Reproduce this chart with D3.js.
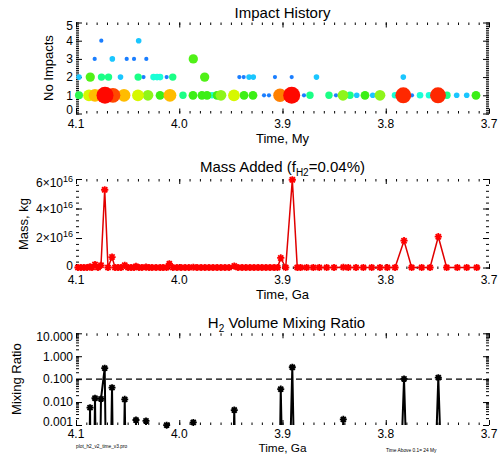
<!DOCTYPE html>
<meta charset="utf-8">
<style>
    html,
    body {
        margin: 0;
        background: #fff;
    }

    svg {
        display: block;
        font-family: "Liberation Sans", Arial, Helvetica, sans-serif;
    }

    .frame {
        fill: none;
        stroke: #000;
        stroke-width: 1.5px;
    }

    .ax line {
        stroke: #000;
        stroke-width: 1px;
    }

    .lab {
        font-size: 12px;
        fill: #000;
    }

    .ttl {
        font-size: 15px;
        fill: #000;
    }

    .atl {
        font-size: 13px;
        fill: #000;
    }

    .note {
        font-size: 4.8px;
        fill: #000;
    }
</style>

<body>
    <script src="https://d3js.org/d3.v7.min.js"></script>
    <script>

        // ---- Impact History: time (Ga), number of impacts, log10 impactor mass (kg)
        var impTime = [
            4.0971, 4.0874, 4.0816, 4.0719, 4.0642, 4.0535, 4.0400, 4.0303, 4.0186, 4.0090,
            3.9964, 3.9867, 3.9780, 3.9731, 3.9683, 3.9634, 3.9596, 3.9470, 3.9373, 3.9286,
            3.9179, 3.9131, 3.9024, 3.8911, 3.8792, 3.8734, 3.8550, 3.8482, 3.8414, 3.8346,
            3.8281, 3.8201, 3.8126, 3.8056, 3.7910, 3.7830, 3.7746, 3.7668, 3.7581, 3.7494,
            3.7407, 3.7313, 3.7216, 3.7126,
            4.0971, 4.0862, 4.0753, 4.0685, 4.0569, 4.0398, 4.0346, 4.0249, 4.0215, 4.0186,
            4.0122, 4.0063, 3.9754, 3.9418, 3.9376, 3.9324, 3.9283, 3.9073, 3.8911, 3.8671,
            3.7830,
            4.0819, 4.0648, 4.0509, 4.0438, 4.0319, 3.9864,
            4.0755, 4.0393
        ];
        var impCount = [
            1, 1, 1, 1, 1, 1, 1, 1, 1, 1,
            1, 1, 1, 1, 1, 1, 1, 1, 1, 1,
            1, 1, 1, 1, 1, 1, 1, 1, 1, 1,
            1, 1, 1, 1, 1, 1, 1, 1, 1, 1,
            1, 1, 1, 1,
            2, 2, 2, 2, 2, 2, 2, 2, 2, 2,
            2, 2, 2, 2, 2, 2, 2, 2, 2, 2,
            2,
            3, 3, 3, 3, 3, 3,
            4, 4
        ];
        var impMass = [
            14.4, 15.4, 15.8, 17.0, 16.6, 15.8, 15.4, 15.0, 14.6, 15.8,
            14.2, 14.6, 14.6, 14.6, 13.8, 14.6, 15.0, 15.4, 14.6, 14.6,
            13.0, 13.0, 16.2, 17.0, 13.0, 14.2, 14.2, 13.0, 15.0, 14.2,
            13.4, 14.6, 13.4, 15.0, 13.8, 16.8, 13.0, 13.8, 13.8, 16.8,
            14.2, 13.4, 13.4, 14.6,
            13.4, 14.7, 14.2, 14.2, 13.4, 14.2, 13.0, 13.8, 13.8, 13.8,
            13.0, 14.2, 14.7, 13.0, 13.0, 13.4, 13.4, 13.0, 13.0, 13.4,
            13.4,
            13.0, 13.4, 13.0, 13.0, 13.0, 14.7,
            13.0, 13.4
        ];

        // ---- Mass added (kg) on the time grid (Ga)
        var massTime = [
            4.0981, 4.0952, 4.0923, 4.0893, 4.0864, 4.0845, 4.0816, 4.0787, 4.0758, 4.0722,
            4.0690, 4.0651, 4.0622, 4.0593, 4.0564, 4.0528, 4.0496, 4.0467, 4.0438, 4.0419,
            4.0390, 4.0361, 4.0322, 4.0293, 4.0264, 4.0225, 4.0186, 4.0157, 4.0122, 4.0096,
            4.0061, 4.0022, 3.9983, 3.9944, 3.9906, 3.9864, 3.9828, 3.9789, 3.9751, 3.9712,
            3.9673, 3.9634, 3.9596, 3.9557, 3.9518, 3.9467, 3.9431, 3.9392, 3.9354, 3.9315,
            3.9276, 3.9237, 3.9199, 3.9160, 3.9121, 3.9082, 3.9048, 3.9017, 3.8969, 3.8905,
            3.8857, 3.8824, 3.8766, 3.8702, 3.8644, 3.8572, 3.8501, 3.8411, 3.8363, 3.8288,
            3.8217, 3.8136, 3.8056, 3.7985, 3.7910, 3.7823, 3.7749, 3.7652, 3.7571, 3.7491,
            3.7410, 3.7307, 3.7216, 3.7119
        ];
        var massVal = [
            0, 0, 0, 0, 0.05e16, 0, 0.2e16, 0, 0.15e16, 5.27e16,
            0, 0.71e16, 0, 0, 0, 0.15e16, 0, 0, 0, 0.08e16,
            0, 0, 0.03e16, 0, 0, 0, 0, 0, 0, 0.25e16,
            0, 0, 0, 0, 0, 0.02e16, 0, 0, 0, 0,
            0, 0, 0, 0, 0, 0.1e16, 0, 0, 0, 0,
            0, 0, 0, 0, 0, 0, 0, 0.65e16, 0, 5.95e16,
            0, 0, 0, 0, 0, 0, 0, 0.02e16, 0, 0,
            0, 0, 0, 0, 0, 1.82e16, 0, 0, 0, 2.09e16,
            0, 0, 0, 0
        ];

        // ---- H2 volume mixing ratio (nonzero values only)
        var mixTime = [4.0864, 4.0816, 4.0758, 4.0722, 4.0651, 4.0528, 4.0419, 4.0322,
            4.0122, 3.9864, 3.9467, 3.9017, 3.8905, 3.8411, 3.7823, 3.7491];
        var mixVal = [0.0057, 0.0147, 0.0137, 0.30, 0.0426, 0.0132, 0.00165, 0.0015,
            0.00098, 0.0013, 0.0045, 0.037, 0.33, 0.00177, 0.102, 0.116];
        var mixLimit = 0.1;

        // ---- ticks
        var xMajor = [4.1, 4.0, 3.9, 3.8, 3.7];
        var xTickLabels = ["4.1", "4.0", "3.9", "3.8", "3.7"];
        var y1Major = [0, 1, 2, 3, 4, 5];
        var y1Labels = ["0", "1", "2", "3", "4", "5"];
        var y2Major = [0, 2e16, 4e16, 6e16];
        var y2Labels = [["0", ""], ["2\u00d710", "16"], ["4\u00d710", "16"], ["6\u00d710", "16"]];
        var y3Major = [0.001, 0.01, 0.1, 1, 10];
        var y3Labels = ["0.001", "0.010", "0.100", "1.000", "10.000"];

        var width = 500,
            height = 454,
            xL = 76,
            xR = 489;

        var svg = d3.select("body").append("svg")
            .attr("width", width)
            .attr("height", height);

        var x = d3.scaleLinear().domain([4.1, 3.7]).range([xL, xR]);
        var xMinor = x.ticks(40);

        function ticks(g, axis, tx, ty) {
            g.append("g")
                .attr("class", "ax")
                .attr("transform", "translate(" + tx + "," + ty + ")")
                .call(axis.tickFormat(""))
                .call(function (s) {
                    s.select(".domain").remove();
                    s.selectAll("text").remove();
                });
        }

        function panel(top, bottom, y, yMajor, yMinor, labGap) {
            var g = svg.append("g");
            ticks(g, d3.axisBottom(x).tickValues(xMinor).tickSize(-2.5), 0, bottom);
            ticks(g, d3.axisBottom(x).tickValues(xMajor).tickSize(-5), 0, bottom);
            ticks(g, d3.axisTop(x).tickValues(xMinor).tickSize(-2.5), 0, top);
            ticks(g, d3.axisTop(x).tickValues(xMajor).tickSize(-5), 0, top);
            ticks(g, d3.axisLeft(y).tickValues(yMinor).tickSize(-3), xL, 0);
            ticks(g, d3.axisLeft(y).tickValues(yMajor).tickSize(-6), xL, 0);
            ticks(g, d3.axisRight(y).tickValues(yMinor).tickSize(-3), xR, 0);
            ticks(g, d3.axisRight(y).tickValues(yMajor).tickSize(-6), xR, 0);

            g.selectAll(".xl")
                .data(xMajor)
                .enter().append("text")
                .attr("class", "lab")
                .attr("x", function (d) { return x(d); })
                .attr("y", bottom + labGap)
                .attr("text-anchor", "middle")
                .text(function (d, i) { return xTickLabels[i]; });
            return g;
        }

        // keep end labels inside the box, like the original
        function labelY(y, v, top, bottom) {
            return Math.max(top + 3.5, Math.min(bottom - 3.5, y(v))) + 4.3;
        }

        function yTitle(txt, bx, cy) {
            svg.append("text")
                .attr("class", "atl")
                .attr("text-anchor", "middle")
                .attr("transform", "translate(" + bx + "," + cy + ") rotate(-90)")
                .text(txt);
        }

        function xTitle(txt, by) {
            return svg.append("text")
                .attr("class", "atl")
                .attr("text-anchor", "middle")
                .attr("x", (xL + xR) / 2)
                .attr("y", by)
                .text(txt);
        }

        function asterisk(r) {
            var d = r * 0.72;
            return "M" + (-r) + ",0L" + r + ",0M0," + (-r) + "L0," + r +
                "M" + (-d) + "," + (-d) + "L" + d + "," + d +
                "M" + (-d) + "," + d + "L" + d + "," + (-d);
        }

        // ===================== Panel 1: Impact History
        var t1 = 22.5, b1 = 113.5;
        var y1 = d3.scaleLinear().domain([0, 5]).range([b1, t1]);
        var p1 = panel(t1, b1, y1, y1Major, y1.ticks(50), 14.5);

        p1.selectAll(".yl")
            .data(y1Major)
            .enter().append("text")
            .attr("class", "lab")
            .attr("x", 73)
            .attr("y", function (d) { return labelY(y1, d, t1, b1); })
            .attr("text-anchor", "end")
            .text(function (d, i) { return y1Labels[i]; });

        var massLevels = [13.0, 13.4, 13.8, 14.2, 14.6, 15.0, 15.4, 15.8, 16.2, 16.6, 17.0];
        var color = d3.scaleLinear()
            .domain(massLevels)
            .range(["#1a7eff", "#1ac6ff", "#1affd6", "#1aff86", "#3cef16", "#8ef51a",
                "#d6f800", "#ffbc00", "#ff8000", "#ff4800", "#ff0800"])
            .clamp(true);
        var radius = d3.scaleLinear()
            .domain(massLevels)
            .range([2.1, 2.8, 3.3, 3.7, 4.4, 5.4, 5.9, 6.4, 6.8, 7.4, 8.5])
            .clamp(true);

        var impacts = impTime.map(function (t, i) {
            return { t: t, n: impCount[i], m: impMass[i] };
        }).sort(function (a, b) { return a.m - b.m; });

        p1.selectAll(".imp")
            .data(impacts)
            .enter().append("circle")
            .attr("cx", function (d) { return x(d.t); })
            .attr("cy", function (d) { return y1(d.n); })
            .attr("r", function (d) { return radius(d.m); })
            .style("fill", function (d) { return color(d.m); });

        svg.append("text").attr("class", "ttl").attr("x", (xL + xR) / 2).attr("y", 17.5)
            .attr("text-anchor", "middle").text("Impact History");
        xTitle("Time, My", 143);
        yTitle("No Impacts", 53, (t1 + b1) / 2);

        // ===================== Panel 2: Mass Added
        var t2 = 179, b2 = 269;
        var y2 = d3.scaleLinear().domain([-0.1e16, 6e16]).range([b2, t2]);
        var p2 = panel(t2, b2, y2, y2Major, d3.range(0, 6.01e16, 0.4e16), 14.5);

        var y2l = p2.selectAll(".yl")
            .data(y2Major)
            .enter().append("text")
            .attr("class", "lab")
            .attr("x", 73)
            .attr("y", function (d) { return labelY(y2, d, t2, b2); })
            .attr("text-anchor", "end");
        y2l.append("tspan").text(function (d, i) { return y2Labels[i][0]; });
        y2l.append("tspan")
            .attr("dy", -5)
            .style("font-size", "9px")
            .text(function (d, i) { return y2Labels[i][1]; });

        var massData = massTime.map(function (t, i) { return { t: t, v: massVal[i] }; });

        p2.append("path")
            .datum(massData)
            .attr("fill", "none")
            .attr("stroke", "#e00000")
            .attr("stroke-width", 1.5)
            .attr("d", d3.line().x(function (d) { return x(d.t); }).y(function (d) { return y2(d.v); }));

        p2.selectAll(".mk")
            .data(massData)
            .enter().append("path")
            .attr("transform", function (d) { return "translate(" + x(d.t) + "," + y2(d.v) + ")"; })
            .attr("d", asterisk(3.6))
            .attr("fill", "none")
            .attr("stroke", "#ff0000")
            .attr("stroke-width", 1.8);

        var ttl2 = svg.append("text").attr("class", "ttl").attr("x", (xL + xR) / 2).attr("y", 171.5)
            .attr("text-anchor", "middle");
        ttl2.append("tspan").text("Mass Added (f");
        ttl2.append("tspan").attr("dy", 4).style("font-size", "10px").text("H2");
        ttl2.append("tspan").attr("dy", -4).text("=0.04%)");
        xTitle("Time, Ga", 298.5);
        yTitle("Mass, kg", 27.5, (t2 + b2) / 2);

        // ===================== Panel 3: H2 Volume Mixing Ratio
        var t3 = 333.3, b3 = 425;
        var y3 = d3.scaleLog().domain([0.001, 10]).range([b3, t3]);
        var p3 = panel(t3, b3, y3, y3Major, y3.ticks(), 13);

        p3.selectAll(".yl")
            .data(y3Major)
            .enter().append("text")
            .attr("class", "lab")
            .attr("x", 73)
            .attr("y", function (d) { return labelY(y3, d, t3, b3); })
            .attr("text-anchor", "end")
            .text(function (d, i) { return y3Labels[i]; });

        svg.append("clipPath").attr("id", "clip3")
            .append("rect").attr("x", xL).attr("y", t3).attr("width", xR - xL).attr("height", b3 - t3);

        p3.append("line")
            .attr("x1", xL).attr("x2", xR)
            .attr("y1", y3(mixLimit)).attr("y2", y3(mixLimit))
            .attr("stroke", "#000")
            .attr("stroke-width", 1.2)
            .attr("stroke-dasharray", "6,4");

        // mixing ratio on the full time grid, zero where nothing was added
        var mixData = massTime.map(function (t) {
            var k = mixTime.indexOf(t);
            return { t: t, v: k < 0 ? 1e-12 : mixVal[k] };
        });

        p3.append("path")
            .datum(mixData)
            .attr("clip-path", "url(#clip3)")
            .attr("fill", "none")
            .attr("stroke", "#000")
            .attr("stroke-width", 2)
            .attr("d", d3.line().x(function (d) { return x(d.t); }).y(function (d) { return y3(d.v); }));

        p3.selectAll(".mk")
            .data(mixTime)
            .enter().append("path")
            .attr("transform", function (d, i) { return "translate(" + x(d) + "," + y3(mixVal[i]) + ")"; })
            .attr("d", asterisk(3.5))
            .attr("fill", "none")
            .attr("stroke", "#000")
            .attr("stroke-width", 1.8);

        var ttl3 = svg.append("text").attr("class", "ttl").attr("x", (xL + xR) / 2 + 4).attr("y", 328)
            .attr("text-anchor", "middle");
        ttl3.append("tspan").text("H");
        ttl3.append("tspan").attr("dy", 4).style("font-size", "10px").text("2");
        ttl3.append("tspan").attr("dy", -4).text(" Volume Mixing Ratio");
        xTitle("Time, Ga", 451.5).style("font-size", "11.8px");
        yTitle("Mixing Ratio", 21, (t3 + b3) / 2);

        svg.append("text").attr("class", "note").attr("x", 76).attr("y", 447.5)
            .text("plot_h2_v2_time_v3.pro");
        svg.append("text").attr("class", "note").attr("x", 386).attr("y", 451.5)
            .text("Time Above 0.1= 24 My");

    </script>
</body>

</html>
